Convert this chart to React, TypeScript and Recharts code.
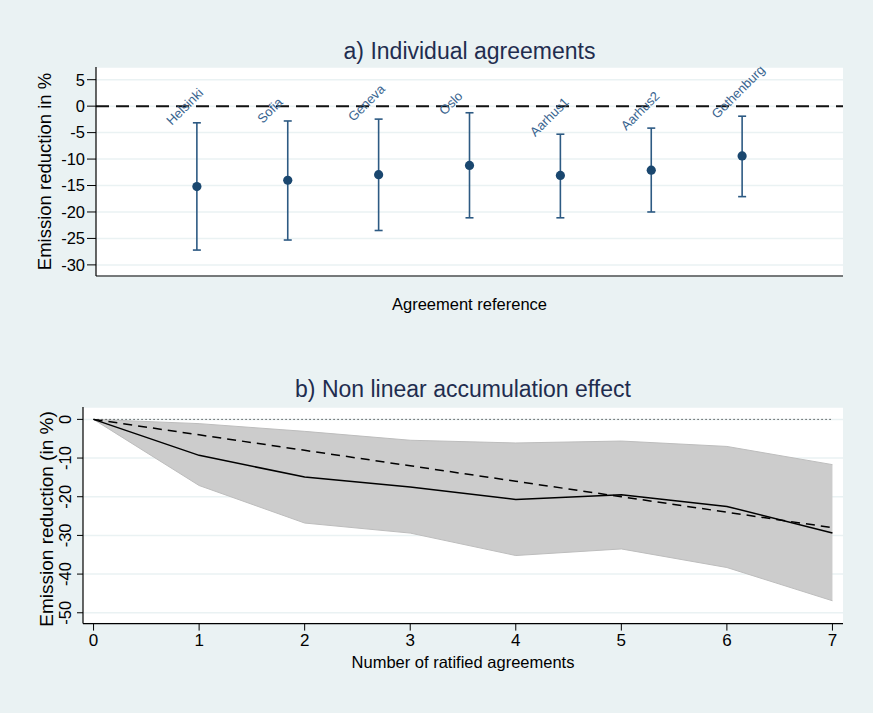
import {
  ComposedChart,
  Scatter,
  ErrorBar,
  Area,
  Line,
  XAxis,
  YAxis,
  CartesianGrid,
  ReferenceLine,
} from "recharts";

// a) individual agreements
const agreements = ["Helsinki", "Sofia", "Geneva", "Oslo", "Aarhus1", "Aarhus2", "Gothenburg"];
const effect = [-15.2, -14.0, -12.95, -11.2, -13.1, -12.1, -9.4];
const ciLow = [-27.2, -25.3, -23.5, -21.1, -21.1, -20.0, -17.1];
const ciHigh = [-3.15, -2.8, -2.45, -1.25, -5.3, -4.15, -1.9];
const topTicks = [5, 0, -5, -10, -15, -20, -25, -30];

// b) accumulation effect
const nAgreements = [0, 1, 2, 3, 4, 5, 6, 7];
const cumulative = [0, -9.3, -14.9, -17.5, -20.7, -19.5, -22.5, -29.4];
const linearRef = [0, -4, -8, -12, -16, -20, -24, -28];
const bandLow = [0, -17.1, -26.8, -29.4, -35.2, -33.5, -38.3, -46.9];
const bandHigh = [0, -1.1, -3.1, -5.4, -6.1, -5.6, -7.0, -11.7];
const bottomTicks = [0, -10, -20, -30, -40, -50];

const FONT = "'Liberation Sans', Arial, Helvetica, sans-serif";
const BG = "#eaf2f3";
const NAVY = "#1a476f";

const topData = agreements.map((name, i) => ({
  name,
  x: i + 1,
  y: effect[i],
  upper: ciHigh[i],
  err: [effect[i] - ciLow[i], ciHigh[i] - effect[i]],
}));

const bottomData = nAgreements.map((n, i) => ({
  n,
  cum: cumulative[i],
  lin: linearRef[i],
  band: [bandLow[i], bandHigh[i]],
}));

const NameLabel = (props: any) => {
  const { cx, cy, payload } = props;
  if (cx == null || cy == null) return null;
  const x = cx - 25;
  const y = cy + 3;
  return (
    <text
      x={x}
      y={y}
      transform={`rotate(-45 ${x} ${y})`}
      fontSize={13}
      fontFamily={FONT}
      fill="#3a6590"
      textAnchor="start"
    >
      {payload.name}
    </text>
  );
};

const Dot = (props: any) => {
  const { cx, cy } = props;
  if (cx == null || cy == null) return null;
  return <circle cx={cx} cy={cy} r={4.6} fill={NAVY} />;
};

// y tick labels of panel b are turned, as in the original
const RotatedTick = (props: any) => {
  const { y, payload } = props;
  const x = 71;
  return (
    <text
      x={x}
      y={y}
      transform={`rotate(-90 ${x} ${y})`}
      textAnchor="middle"
      fontSize={16.5}
      fontFamily={FONT}
      fill="#000"
    >
      {payload.value}
    </text>
  );
};

export default function App() {
  return (
    <div
      style={{
        position: "absolute",
        left: 0,
        top: 0,
        width: 873,
        height: 713,
        background: BG,
        fontFamily: FONT,
      }}
    >
      <svg
        width={873}
        height={713}
        style={{ position: "absolute", left: 0, top: 0 }}
        fontFamily={FONT}
      >
        <text x={469.5} y={59} textAnchor="middle" fontSize={23} fill="#1f2d4f">
          a) Individual agreements
        </text>
        <text
          x={51}
          y={171.5}
          transform="rotate(-90 51 171.5)"
          textAnchor="middle"
          fontSize={18.5}
          fill="#000"
        >
          Emission reduction in %
        </text>
        <text x={469.5} y={309.5} textAnchor="middle" fontSize={16.5} fill="#000">
          Agreement reference
        </text>
        <text x={463} y={397} textAnchor="middle" fontSize={23} fill="#1f2d4f">
          b) Non linear accumulation effect
        </text>
        <text
          x={52.5}
          y={519}
          transform="rotate(-90 52.5 519)"
          textAnchor="middle"
          fontSize={19}
          fill="#000"
        >
          Emission reduction (in %)
        </text>
        <text x={463} y={668} textAnchor="middle" fontSize={16.5} fill="#000">
          Number of ratified agreements
        </text>
      </svg>

      <div style={{ position: "absolute", left: 0, top: 0 }}>
        <ComposedChart
          width={873}
          height={300}
          data={topData}
          margin={{ top: 67, right: 30, bottom: 0, left: 36 }}
        >
          <CartesianGrid horizontal vertical={false} stroke={BG} strokeWidth={1.5} fill="#ffffff" />
          <XAxis
            dataKey="x"
            type="number"
            domain={[-0.11, 8.11]}
            ticks={[]}
            tick={false}
            tickLine={false}
            height={24}
            axisLine={{ stroke: "#000", strokeWidth: 1.2 }}
          />
          <YAxis
            type="number"
            domain={[-32.1, 7.4]}
            ticks={topTicks}
            width={60}
            tickSize={9}
            tickMargin={2}
            axisLine={{ stroke: "#000", strokeWidth: 1.2 }}
            tickLine={{ stroke: "#000" }}
            tick={{ fontSize: 16.5, fill: "#000", fontFamily: FONT }}
            interval={0}
          />
          <ReferenceLine y={0} stroke="#111" strokeWidth={2} strokeDasharray="13 7" />
          <Scatter dataKey="y" shape={<Dot />} isAnimationActive={false}>
            <ErrorBar
              dataKey="err"
              direction="y"
              width={4}
              stroke="#2d5a83"
              strokeWidth={1.6}
              isAnimationActive={false}
            />
          </Scatter>
          <Scatter dataKey="upper" shape={<NameLabel />} isAnimationActive={false} />
        </ComposedChart>
      </div>

      <div style={{ position: "absolute", left: 0, top: 380 }}>
        <ComposedChart
          width={873}
          height={300}
          data={bottomData}
          margin={{ top: 27, right: 30, bottom: 0, left: 38 }}
        >
          <CartesianGrid horizontal vertical={false} stroke={BG} strokeWidth={1.5} fill="#ffffff" />
          <XAxis
            dataKey="n"
            type="number"
            domain={[-0.1, 7.1]}
            ticks={nAgreements}
            interval={0}
            height={56.4}
            tickSize={7}
            tickMargin={3}
            axisLine={{ stroke: "#000", strokeWidth: 1.2 }}
            tickLine={{ stroke: "#000" }}
            tick={{ fontSize: 17, fill: "#000", fontFamily: FONT }}
          />
          <YAxis
            type="number"
            domain={[-52.8, 3.2]}
            ticks={bottomTicks}
            interval={0}
            width={45}
            tickSize={6}
            tickMargin={4}
            axisLine={{ stroke: "#000", strokeWidth: 1.2 }}
            tickLine={{ stroke: "#000" }}
            tick={<RotatedTick />}
          />
          <Area
            dataKey="band"
            type="linear"
            fill="#cccccc"
            fillOpacity={1}
            stroke="#bdbdbd"
            strokeWidth={1}
            isAnimationActive={false}
          />
          <ReferenceLine
            segment={[
              { x: 0, y: 0 },
              { x: 7, y: 0 },
            ]}
            stroke="#000"
            strokeWidth={1}
            strokeDasharray="1 3"
          />
          <Line
            dataKey="lin"
            type="linear"
            stroke="#000"
            strokeWidth={1.5}
            strokeDasharray="9 6"
            dot={false}
            isAnimationActive={false}
          />
          <Line
            dataKey="cum"
            type="linear"
            stroke="#000"
            strokeWidth={1.5}
            dot={false}
            isAnimationActive={false}
          />
        </ComposedChart>
      </div>
    </div>
  );
}
